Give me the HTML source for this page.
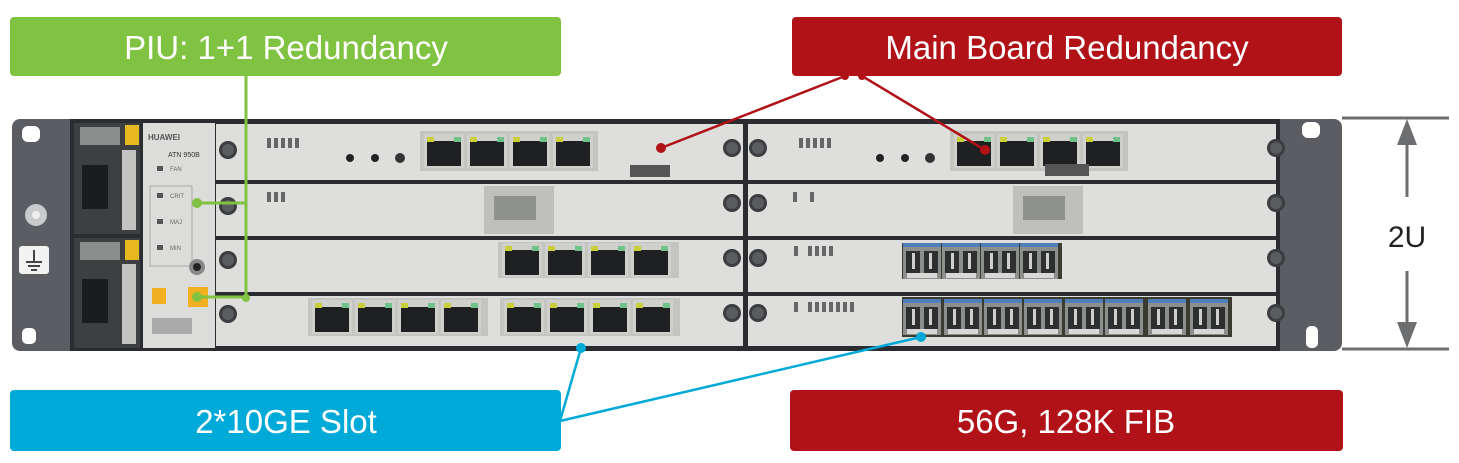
<!DOCTYPE html>
<html><head><meta charset="utf-8"><style>
html,body{margin:0;padding:0;background:#fff;}
svg{display:block;}
text{font-family:"Liberation Sans","DejaVu Sans",sans-serif;}
</style></head><body>
<svg width="1459" height="463" viewBox="0 0 1459 463" xmlns="http://www.w3.org/2000/svg">
<defs>
  <g id="rj">
    <rect x="0" y="0" width="40" height="34" fill="#cfd0cc"/>
    <rect x="3" y="7" width="34" height="25" fill="#1e2022"/>
    <rect x="3" y="3" width="7" height="5" fill="#c9cf3a"/>
    <rect x="30" y="3" width="7" height="5" fill="#6fc28a"/>
  </g>
  <g id="sfp">
    <rect x="0" y="0" width="38" height="36" fill="#8d8f8c"/>
    <rect x="0" y="0" width="38" height="4" fill="#4f7fb8"/>
    <rect x="3" y="8" width="14" height="22" fill="#2d2f30"/>
    <rect x="21" y="8" width="14" height="22" fill="#2d2f30"/>
    <rect x="9" y="10" width="3" height="16" fill="#cfd0cd"/>
    <rect x="26" y="10" width="3" height="16" fill="#cfd0cd"/>
    <rect x="4" y="30" width="30" height="5" fill="#d8d9d6"/>
  </g>
  <g id="screw">
    <circle r="9" fill="#3b3d40"/>
    <circle r="6" fill="#5a5c5f"/>
  </g>
</defs>

<!-- Chassis -->
<rect x="12" y="119" width="1330" height="232" rx="8" fill="#5b5d62"/>
<rect x="70" y="119" width="1210" height="232" fill="#2a2c2f"/>
<rect x="22" y="126" width="18" height="16" rx="6" fill="#fff"/>
<rect x="22" y="328" width="14" height="16" rx="5" fill="#fff"/>
<circle cx="36" cy="215" r="11" fill="#c9cacb"/>
<circle cx="36" cy="215" r="4" fill="#eee"/>
<rect x="19" y="246" width="30" height="28" rx="3" fill="#f2f2f2"/>
<path d="M34 250 V262 M26 262 H42 M28 266 H40 M31 270 H37" stroke="#444" stroke-width="2" fill="none"/>
<rect x="1302" y="122" width="18" height="16" rx="6" fill="#fff"/>
<rect x="1306" y="326" width="12" height="22" rx="5" fill="#fff"/>

<!-- PSUs -->
<rect x="74" y="123" width="66" height="111" fill="#3d3f41"/>
<rect x="74" y="238" width="66" height="110" fill="#3d3f41"/>
<rect x="125" y="125" width="14" height="20" fill="#e8b820"/>
<rect x="125" y="240" width="14" height="20" fill="#e8b820"/>
<rect x="80" y="127" width="40" height="18" fill="#8c8e8e"/>
<rect x="80" y="242" width="40" height="18" fill="#8c8e8e"/>
<rect x="82" y="165" width="26" height="44" fill="#1b1c1d"/>
<rect x="82" y="279" width="26" height="44" fill="#1b1c1d"/>
<rect x="122" y="150" width="14" height="80" fill="#c3c4c2"/>
<rect x="122" y="264" width="14" height="80" fill="#c3c4c2"/>

<!-- Control panel -->
<rect x="143" y="123" width="72" height="225" fill="#dcdcda"/>
<text x="148" y="140" font-size="8" font-weight="bold" fill="#555">HUAWEI</text>
<text x="168" y="157" font-size="7" fill="#333">ATN 950B</text>
<rect x="157" y="166" width="6" height="5" fill="#555"/><text x="170" y="171" font-size="6" fill="#666">FAN</text>
<rect x="150" y="186" width="42" height="80" fill="none" stroke="#aaa"/>
<rect x="157" y="193" width="6" height="5" fill="#555"/><text x="170" y="198" font-size="6" fill="#666">CRIT</text>
<rect x="157" y="219" width="6" height="5" fill="#555"/><text x="170" y="224" font-size="6" fill="#666">MAJ</text>
<rect x="157" y="245" width="6" height="5" fill="#555"/><text x="170" y="250" font-size="6" fill="#666">MIN</text>
<circle cx="197" cy="267" r="8" fill="#888"/><circle cx="197" cy="267" r="4" fill="#222"/>
<rect x="152" y="288" width="14" height="16" fill="#f0b020"/>
<rect x="188" y="287" width="20" height="20" fill="#f0b020"/>
<rect x="152" y="318" width="40" height="16" fill="#aaa"/>

<!-- Cards -->
<g fill="#dedfdc">
<rect x="216" y="124" width="527" height="56"/>
<rect x="216" y="184" width="527" height="52"/>
<rect x="216" y="240" width="527" height="52"/>
<rect x="216" y="296" width="527" height="50"/>
<rect x="748" y="124" width="528" height="56"/>
<rect x="748" y="184" width="528" height="52"/>
<rect x="748" y="240" width="528" height="52"/>
<rect x="748" y="296" width="528" height="50"/>
</g>
<use href="#screw" x="228" y="150"/><use href="#screw" x="228" y="206"/><use href="#screw" x="228" y="260"/><use href="#screw" x="228" y="314"/>
<use href="#screw" x="732" y="148"/><use href="#screw" x="732" y="203"/><use href="#screw" x="732" y="258"/><use href="#screw" x="732" y="313"/>
<use href="#screw" x="758" y="148"/><use href="#screw" x="758" y="203"/><use href="#screw" x="758" y="258"/><use href="#screw" x="758" y="313"/>
<use href="#screw" x="1276" y="148"/><use href="#screw" x="1276" y="203"/><use href="#screw" x="1276" y="258"/><use href="#screw" x="1276" y="313"/>

<!-- row1 -->
<g fill="#666"><rect x="267" y="138" width="4" height="10"/><rect x="274" y="138" width="4" height="10"/><rect x="281" y="138" width="4" height="10"/><rect x="288" y="138" width="4" height="10"/><rect x="295" y="138" width="4" height="10"/></g>
<circle cx="350" cy="158" r="4" fill="#222"/><circle cx="375" cy="158" r="4" fill="#222"/><circle cx="400" cy="158" r="5" fill="#333"/>
<rect x="420" y="131" width="178" height="40" fill="#c4c5c1"/>
<use href="#rj" x="424" y="134"/><use href="#rj" x="467" y="134"/><use href="#rj" x="510" y="134"/><use href="#rj" x="553" y="134"/>
<rect x="630" y="165" width="40" height="12" fill="#555"/>
<g fill="#666"><rect x="799" y="138" width="4" height="10"/><rect x="806" y="138" width="4" height="10"/><rect x="813" y="138" width="4" height="10"/><rect x="820" y="138" width="4" height="10"/><rect x="827" y="138" width="4" height="10"/></g>
<circle cx="880" cy="158" r="4" fill="#222"/><circle cx="905" cy="158" r="4" fill="#222"/><circle cx="930" cy="158" r="5" fill="#333"/>
<rect x="950" y="131" width="178" height="40" fill="#c4c5c1"/>
<use href="#rj" x="954" y="134"/><use href="#rj" x="997" y="134"/><use href="#rj" x="1040" y="134"/><use href="#rj" x="1083" y="134"/>
<rect x="1045" y="164" width="44" height="12" fill="#555"/>

<!-- row2 -->
<rect x="484" y="186" width="70" height="48" fill="#bfc0bd"/>
<rect x="494" y="196" width="42" height="24" fill="#8f918e"/>
<rect x="1013" y="186" width="70" height="48" fill="#bfc0bd"/>
<rect x="1023" y="196" width="42" height="24" fill="#8f918e"/>
<g fill="#666"><rect x="267" y="192" width="4" height="10"/><rect x="274" y="192" width="4" height="10"/><rect x="281" y="192" width="4" height="10"/><rect x="793" y="192" width="4" height="10"/><rect x="810" y="192" width="4" height="10"/></g>

<!-- row3 -->
<rect x="498" y="242" width="181" height="36" fill="#c4c5c1"/>
<use href="#rj" x="502" y="243"/><use href="#rj" x="545" y="243"/><use href="#rj" x="588" y="243"/><use href="#rj" x="631" y="243"/>
<rect x="902" y="243" width="160" height="36" fill="#3a3c30"/>
<use href="#sfp" x="903" y="243"/><use href="#sfp" x="942" y="243"/><use href="#sfp" x="981" y="243"/><use href="#sfp" x="1020" y="243"/>
<g fill="#666"><rect x="794" y="246" width="4" height="10"/><rect x="808" y="246" width="4" height="10"/><rect x="815" y="246" width="4" height="10"/><rect x="822" y="246" width="4" height="10"/><rect x="829" y="246" width="4" height="10"/></g>

<!-- row4 -->
<rect x="308" y="298" width="180" height="38" fill="#c4c5c1"/>
<use href="#rj" x="312" y="300"/><use href="#rj" x="355" y="300"/><use href="#rj" x="398" y="300"/><use href="#rj" x="441" y="300"/>
<rect x="500" y="298" width="180" height="38" fill="#c4c5c1"/>
<use href="#rj" x="504" y="300"/><use href="#rj" x="547" y="300"/><use href="#rj" x="590" y="300"/><use href="#rj" x="633" y="300"/>
<rect x="902" y="297" width="330" height="40" fill="#3a3c30"/>
<use href="#sfp" x="903" y="299"/><use href="#sfp" x="944" y="299"/><use href="#sfp" x="984" y="299"/><use href="#sfp" x="1024" y="299"/><use href="#sfp" x="1065" y="299"/><use href="#sfp" x="1105" y="299"/><use href="#sfp" x="1148" y="299"/><use href="#sfp" x="1190" y="299"/>
<g fill="#666"><rect x="794" y="302" width="4" height="10"/><rect x="808" y="302" width="4" height="10"/><rect x="815" y="302" width="4" height="10"/><rect x="822" y="302" width="4" height="10"/><rect x="829" y="302" width="4" height="10"/><rect x="836" y="302" width="4" height="10"/><rect x="843" y="302" width="4" height="10"/><rect x="850" y="302" width="4" height="10"/></g>

<!-- Dimension -->
<g stroke="#6d6e70" stroke-width="3" fill="#6d6e70">
<line x1="1342" y1="118" x2="1449" y2="118"/>
<line x1="1342" y1="349" x2="1449" y2="349"/>
<line x1="1407" y1="140" x2="1407" y2="197"/>
<line x1="1407" y1="271" x2="1407" y2="326"/>
</g>
<polygon points="1407,119 1397,145 1417,145" fill="#6d6e70"/>
<polygon points="1407,348 1397,322 1417,322" fill="#6d6e70"/>
<text x="1407" y="247" font-size="30" fill="#222" text-anchor="middle">2U</text>

<!-- Connectors -->
<g stroke="#80c241" stroke-width="3" fill="none">
<line x1="246" y1="76" x2="246" y2="298"/>
<line x1="197" y1="203" x2="246" y2="203"/>
<line x1="197" y1="297" x2="246" y2="297"/>
</g>
<circle cx="197" cy="203" r="5" fill="#80c241"/><circle cx="197" cy="297" r="5" fill="#80c241"/><circle cx="246" cy="298" r="4" fill="#80c241"/>
<g stroke="#b01218" stroke-width="2.5">
<line x1="845" y1="76" x2="661" y2="148"/>
<line x1="862" y1="76" x2="985" y2="150"/>
</g>
<circle cx="661" cy="148" r="5" fill="#b01218"/><circle cx="985" cy="150" r="5" fill="#b01218"/>
<circle cx="845" cy="76" r="4" fill="#b01218"/><circle cx="862" cy="76" r="4" fill="#b01218"/>
<g stroke="#00aad8" stroke-width="2.5">
<line x1="560" y1="421" x2="581" y2="348"/>
<line x1="560" y1="421" x2="921" y2="337"/>
</g>
<circle cx="581" cy="348" r="5" fill="#00aad8"/><circle cx="921" cy="337" r="5" fill="#00aad8"/>

<!-- Labels -->
<rect x="10" y="17" width="551" height="59" rx="4" fill="#80c241"/>
<text x="286" y="59" font-size="33" fill="#fff" text-anchor="middle">PIU: 1+1 Redundancy</text>
<rect x="792" y="17" width="550" height="59" rx="4" fill="#b01218"/>
<text x="1067" y="59" font-size="33" fill="#fff" text-anchor="middle">Main Board Redundancy</text>
<rect x="10" y="390" width="551" height="61" rx="4" fill="#00aad8"/>
<text x="286" y="433" font-size="33" fill="#fff" text-anchor="middle">2*10GE Slot</text>
<rect x="790" y="390" width="553" height="61" rx="4" fill="#b01218"/>
<text x="1066" y="433" font-size="33" fill="#fff" text-anchor="middle">56G, 128K FIB</text>
</svg>
</body></html>
